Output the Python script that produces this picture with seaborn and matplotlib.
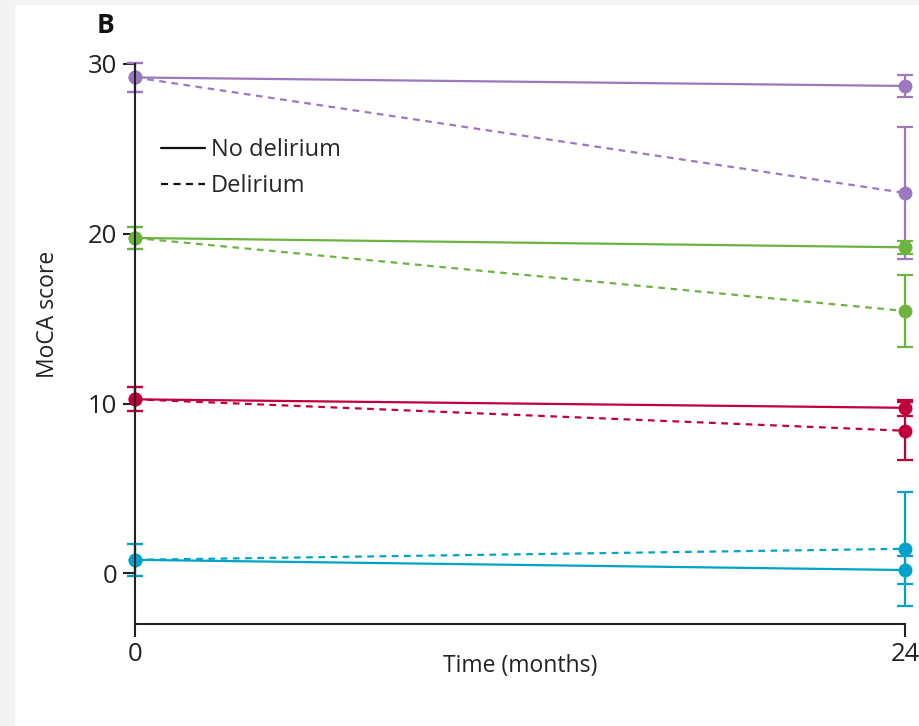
import pandas as pd
import numpy as np
import matplotlib.pyplot as plt
import seaborn as sns
from matplotlib.lines import Line2D
from matplotlib.patches import Rectangle

sns.set_style("white")
plt.rcParams['font.family'] = ['Open Sans', 'DejaVu Sans']

# data
time = [0, 24]
groups = ["Group 1", "Group 2", "Group 3", "Group 4"]
colors = ["#9b78c0", "#6db33f", "#c1003b", "#00a3c7"]

no_del_mean = {"Group 1": [29.2, 28.7], "Group 2": [19.75, 19.2],
               "Group 3": [10.25, 9.75], "Group 4": [0.8, 0.2]}
no_del_err = {"Group 1": [0.85, 0.67], "Group 2": [0.67, 0.38],
              "Group 3": [0.7, 0.47], "Group 4": [0.93, 0.8]}
del_mean = {"Group 1": [29.2, 22.4], "Group 2": [19.75, 15.45],
            "Group 3": [10.25, 8.4], "Group 4": [0.8, 1.45]}
del_err = {"Group 1": [0.85, 3.9], "Group 2": [0.67, 2.1],
           "Group 3": [0.7, 1.7], "Group 4": [0.93, 3.35]}

rows = []
for g in groups:
    for i, t in enumerate(time):
        rows.append([g, "No delirium", t, no_del_mean[g][i], no_del_err[g][i]])
        rows.append([g, "Delirium", t, del_mean[g][i], del_err[g][i]])
df = pd.DataFrame(rows, columns=["group", "status", "time", "moca", "err"])

fig = plt.figure(figsize=(9.19, 7.26), dpi=100)
ax = fig.add_axes([0.147, 0.140, 0.838, 0.772])
# faint page edge at left and top
fig.patches.append(Rectangle((0, 0), 0.015, 1, transform=fig.transFigure,
                             color="#f3f3f3", zorder=-1))
fig.patches.append(Rectangle((0, 0.995), 1, 0.005, transform=fig.transFigure,
                             color="#f3f3f3", zorder=-1))

pal = dict(zip(groups, colors))
sns.lineplot(data=df, x="time", y="moca", hue="group", style="status",
             style_order=["No delirium", "Delirium"],
             dashes={"No delirium": "", "Delirium": (3, 2.5)},
             markers={"No delirium": "o", "Delirium": "o"},
             markersize=10, markeredgewidth=0, linewidth=1.6,
             palette=pal, legend=False, ax=ax, clip_on=False)

for _, r in df.iterrows():
    ax.errorbar(r["time"], r["moca"], yerr=r["err"], fmt="none",
                ecolor=pal[r["group"]], elinewidth=1.6, capsize=6,
                capthick=1.6, clip_on=False, zorder=1)

ax.set_xlim(0, 24)
ax.set_ylim(-3, 30)
ax.set_xticks([0, 24])
ax.set_yticks([0, 10, 20, 30])
for s in ["top", "right"]:
    ax.spines[s].set_visible(False)
for s in ["left", "bottom"]:
    ax.spines[s].set_color("#222222")
    ax.spines[s].set_linewidth(1.5)
ax.tick_params(axis="both", direction="out", length=9, width=1.5,
               colors="#222222", labelsize=18.5, left=True, bottom=True)
ax.tick_params(axis="y", pad=4)
ax.set_xlabel("Time (months)", fontsize=16.5, color="#222222", labelpad=-9)
ax.set_ylabel("MoCA score", fontsize=16.5, color="#222222")
ax.yaxis.set_label_coords(-0.098, 0.553)

handles = [Line2D([0], [0], color="#111111", lw=1.6),
           Line2D([0], [0], color="#111111", lw=1.6, dashes=(3.2, 2.4))]
ax.legend(handles, ["No delirium", "Delirium"], loc="upper left",
          bbox_to_anchor=(0.006, 0.905), frameon=False, fontsize=17,
          handlelength=1.85, handletextpad=0.25, labelspacing=0.5)

fig.text(0.105, 0.965, "B", fontsize=19, fontweight="bold", color="#111111",
         va="center")

fig.savefig("out.png", dpi=100)
